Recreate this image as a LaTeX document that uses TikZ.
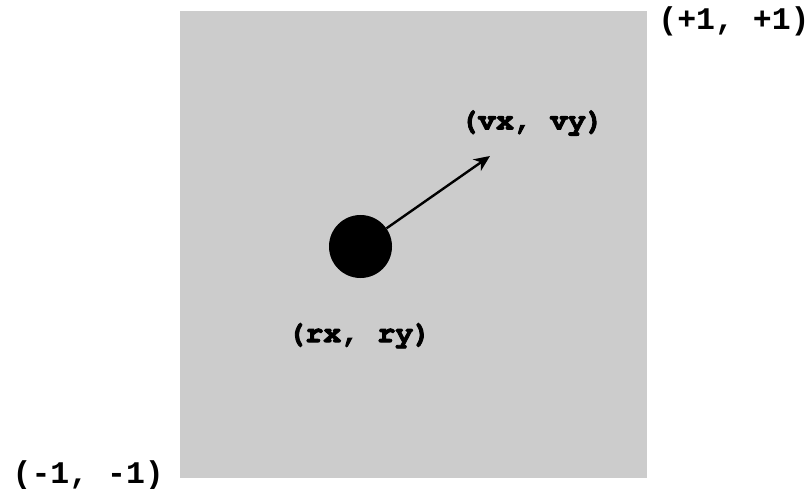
\documentclass[tikz,border=0pt]{standalone}
\usepackage[T1]{fontenc}
\usepackage{fontspec}
\setmonofont{Liberation Mono}
\usetikzlibrary{arrows.meta}
\definecolor{boxgray}{HTML}{CCCCCC}
\newcommand\courbold{\fontencoding{T1}\fontfamily{pcr}\fontseries{b}\fontshape{n}\selectfont}
\newcommand\heavytext[1]{\special{pdf:literal direct 2 Tr 0.9 w}#1\special{pdf:literal direct 0 Tr}}
\tikzset{
  lbl/.style={inner sep=0pt, font=\courbold\fontsize{30}{33}\selectfont},
  cornerlbl/.style={inner sep=0pt, font=\ttfamily\bfseries\fontsize{31.5}{34}\selectfont},
  vec/.style={line width=2.4pt, -{Stealth[length=16pt,width=14pt,inset=5pt]}},
  ball/.style={circle, fill=black, minimum size=63pt, inner sep=0pt}
}
\begin{document}
\begin{tikzpicture}[x=1pt,y=-1pt]
\useasboundingbox (0,0) rectangle (811,489);
\fill[boxgray] (180,11) rectangle (647,478);
\coordinate (tip) at (490,156);
\node[ball] (b) at (360.5,246.5) {};
\draw[vec] (b) -- (tip);
\node[lbl] (v) at (532,122) {\heavytext{(vx, vy)}};
\node[lbl] (r) at (359.3,334.7) {\heavytext{(rx, ry)}};
\node[cornerlbl] (tr) at (734,21.5) {(+1, +1)};
\node[cornerlbl] (bl) at (88.3,475.5) {(-1, -1)};
\end{tikzpicture}
\end{document}
